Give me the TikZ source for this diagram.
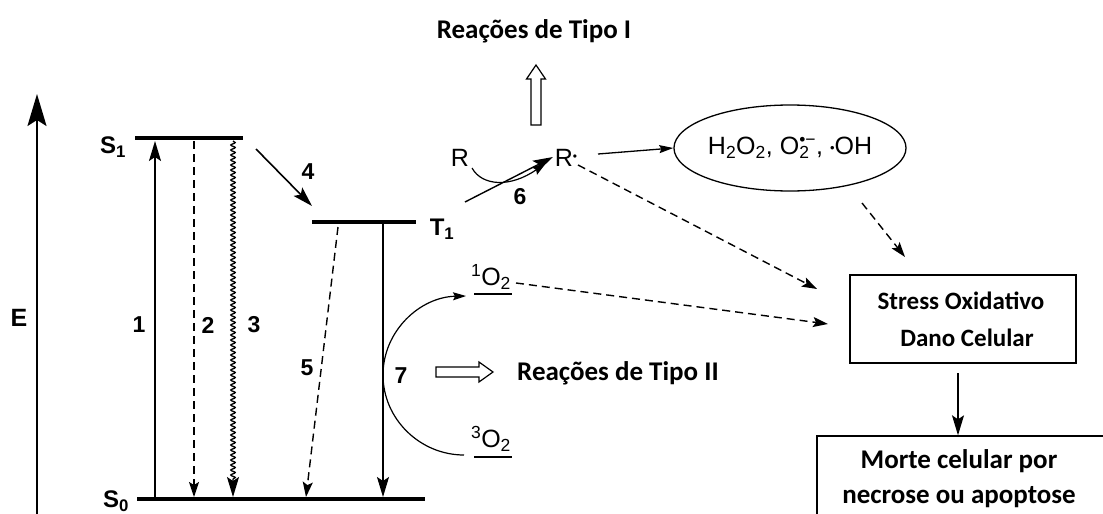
\documentclass[tikz,border=0pt]{standalone}
\usepackage{fontspec}
\setmainfont{Liberation Sans}
\newfontfamily\arialfont{Liberation Sans}
\newfontfamily\calibfont{Carlito}
\usetikzlibrary{arrows.meta,decorations.pathmorphing,shapes.geometric}

\begin{document}
\begin{tikzpicture}[x=1pt,y=-1pt,
  energy/.style={line width=4.5pt},
  stepnum/.style={font=\arialfont\bfseries\fontsize{23}{26}\selectfont, inner sep=0pt},
  lvlabel/.style={font=\arialfont\bfseries\fontsize{24}{26}\selectfont, inner sep=0pt},
  chem/.style={font=\arialfont\fontsize{25}{28}\selectfont, inner sep=0pt},
  heading/.style={font=\calibfont\bfseries\fontsize{27}{32}\selectfont, inner sep=0pt},
  arrowhd/.style={-{Stealth[length=20pt,width=12pt,inset=4pt]}},
  darrowhd/.style={-{Stealth[length=15pt,width=10pt,inset=3pt]}},
  trans/.style={arrowhd, line width=1.6pt},
  dtrans/.style={darrowhd, line width=1.4pt, dash pattern=on 8pt off 5pt},
  hollow/.style={line width=1.2pt, fill=white},
]
\useasboundingbox (0,0) rectangle (1103,514);
\clip (0,0) rectangle (1103,514);

% energy axis
\coordinate (ebot) at (37,514);
\coordinate (etop) at (37,94);
\draw[line width=2pt, -{Stealth[length=32pt,width=19pt,inset=6pt]}] (ebot) -- (etop);
\node[font=\arialfont\bfseries\fontsize{25}{28}\selectfont, inner sep=0pt] (elab) at (19,318) {E};

% electronic levels
\coordinate (s1l) at (135,138); \coordinate (s1r) at (243,138);
\coordinate (s0l) at (137,499); \coordinate (s0r) at (425,499);
\coordinate (t1l) at (312,222); \coordinate (t1r) at (416,222);
\draw[energy] (s1l) -- (s1r);
\draw[energy] (s0l) -- (s0r);
\draw[energy] (t1l) -- (t1r);
\node[lvlabel] (s1lab) at (113,147) {S\textsubscript{1}};
\node[lvlabel] (s0lab) at (116,501) {S\textsubscript{0}};
\node[lvlabel] (t1lab) at (442,229) {T\textsubscript{1}};

% transitions
\coordinate (a1b) at (155,497); \coordinate (a1t) at (155,141);
\coordinate (a2t) at (194,141); \coordinate (a2b) at (194,497);
\coordinate (a3t) at (233,141); \coordinate (a3b) at (233,497);
\coordinate (a4s) at (256,149); \coordinate (a4e) at (312,206);
\coordinate (a5s) at (338,227); \coordinate (a5e) at (306,497);
\coordinate (a7t) at (383,224); \coordinate (a7b) at (383,497);
\draw[trans] (a1b) -- (a1t);
\draw[dtrans] (a2t) -- (a2b);
\draw[arrowhd, line width=1.3pt, decorate, decoration={snake, amplitude=2.2pt, segment length=5pt, post length=16pt}] (a3t) -- (a3b);
\draw[trans] (a4s) -- (a4e);
\draw[dtrans] (a5s) -- (a5e);
\draw[arrowhd, line width=1.1pt] (a7t) -- (a7b);

\node[stepnum] (n1) at (139,325) {1};
\node[stepnum] (n2) at (208,325) {2};
\node[stepnum] (n3) at (254,325) {3};
\node[stepnum] (n4) at (308,172) {4};
\node[stepnum] (n5) at (307,368) {5};
\node[stepnum] (n7) at (401,376) {7};
\node[stepnum] (n6) at (520,197) {6};

% oxygen states and energy transfer
\node[chem] (o1) at (491,277) {\textsuperscript{1}O\textsubscript{2}};
\node[chem] (o3) at (491,439) {\textsuperscript{3}O\textsubscript{2}};
\draw[line width=1.1pt] (474,294) -- (512,294);
\draw[line width=1.1pt] (474,457) -- (512,457);
\coordinate (c7b) at (464,455);
\coordinate (c7l) at (383,375);
\coordinate (c7t) at (466,296);
\draw[line width=1.2pt, -{Stealth[length=13pt,width=8pt,inset=2pt]}]
  (c7b) .. controls (420,455) and (383,419) .. (c7l)
        .. controls (383,331) and (420,297) .. (c7t);

% type II
\draw[hollow] (436,367) -- (479,367) -- (479,362) -- (493,372) -- (479,382) -- (479,377) -- (436,377) -- cycle;
\node[heading, anchor=west] (tipo2) at (517,373) {Reações de Tipo II};

% type I
\node[heading] (tipo1) at (534,31) {Reações de Tipo I};
\draw[hollow] (531,125) -- (531,79) -- (526.5,79) -- (536,65) -- (545.5,79) -- (541,79) -- (541,125) -- cycle;

\node[chem] (r) at (460,158) {R};
\node[chem] (rdot) at (566,158) {R\raisebox{6pt}{\fontsize{12}{12}\selectfont•}};
\coordinate (a6s) at (465,202);
\coordinate (a6e) at (553,157);
\draw[trans, line width=1.4pt] (a6s) -- (a6e);
\draw[line width=1.2pt, -{Stealth[length=14pt,width=9pt,inset=2pt]}]
  (472,168) .. controls (482,186) and (510,188) .. (546,163);

\node[chem, draw, ellipse, line width=1.3pt, minimum width=216pt, minimum height=86pt] (ros) at (790,148)
  {H\textsubscript{2}O\textsubscript{2}, O\rlap{\textsubscript{2}}\textsuperscript{•−}, \raisebox{2pt}{\fontsize{13}{13}\selectfont•}OH};
\draw[line width=1.3pt, -{Stealth[length=14pt,width=8pt,inset=2pt]}] (598,154) -- (ros.west);

% consequences
\node[draw, line width=1.4pt, minimum width=226pt, minimum height=88pt, inner sep=0pt] (stress) at (963,319) {};
\node[heading, font=\calibfont\bfseries\fontsize{25}{30}\selectfont] (stress1) at (961,301) {Stress Oxidativo};
\node[heading, font=\calibfont\bfseries\fontsize{25}{30}\selectfont] (stress2) at (967,338) {Dano Celular};

\node[draw, line width=1.4pt, minimum width=300pt, minimum height=100pt, inner sep=0pt] (morte) at (967,486) {};
\node[heading] (morte1) at (959,461) {Morte celular por};
\node[heading] (morte2) at (959,497) {necrose ou apoptose};

\coordinate (sd1) at (578,165);
\coordinate (sd2) at (817,289);
\coordinate (od1) at (516,283);
\coordinate (od2) at (828,324);
\coordinate (ed1) at (862,203);
\coordinate (ed2) at (905,257);
\draw[dtrans] (sd1) -- (sd2);
\draw[dtrans] (od1) -- (od2);
\draw[dtrans] (ed1) -- (ed2);

\coordinate (down1) at (958,373);
\draw[arrowhd, line width=1.3pt] (down1) -- (down1 |- morte.north);
\end{tikzpicture}
\end{document}
